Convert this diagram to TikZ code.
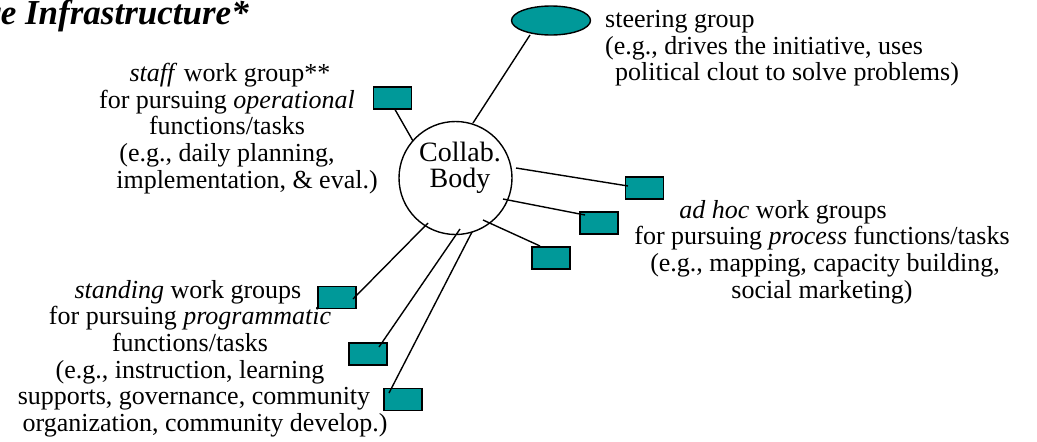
\documentclass[tikz,border=0pt]{standalone}
\usepackage{fontspec}
\setmainfont{Liberation Serif}
\usetikzlibrary{calc,shapes.geometric}
\definecolor{teal}{RGB}{0,153,153}
\tikzset{
  wgbox/.style={draw=black, fill=teal, line width=1.4pt, minimum width=38pt, minimum height=22pt, inner sep=0pt},
  link/.style={draw=black, line width=1.4pt},
  label/.style={inner sep=0pt, font=\fontsize{26}{26.6}\selectfont},
}
\begin{document}
\begin{tikzpicture}[x=1pt, y=-1pt]
  \useasboundingbox (0,0) rectangle (1037,442);
  \clip (0,0) rectangle (1037,442);

  % heading, running off the left edge
  \node[anchor=base east, inner sep=0pt, font=\fontsize{35}{38}\selectfont\bfseries\itshape]
    (title) at (249,24) {re Infrastructure*};

  % central body
  \node[circle, draw=black, fill=white, line width=1.4pt, minimum size=113pt, inner sep=0pt]
    (cb) at (455.5,178) {};
  \node[inner sep=0pt, align=center, font=\fontsize{28}{26}\selectfont]
    (cbtext) at (460,167.5) {Collab.\\Body};

  % steering group
  \node[ellipse, draw=black, fill=teal, line width=1.4pt, minimum width=79pt, minimum height=29pt, inner sep=0pt]
    (steer) at (551,20.5) {};
  \node[label, anchor=west, align=left] (steertext) at (605,48.5)
    {steering group\\(e.g., drives the initiative, uses\\\hspace*{10pt}political clout to solve problems)};

  % work group boxes
  \node[wgbox] (bS) at (392.5,98) {};
  \node[wgbox] (bA) at (644.5,188) {};
  \node[wgbox] (bB) at (599,223) {};
  \node[wgbox] (bC) at (551,258) {};
  \node[wgbox] (bD) at (337,297.5) {};
  \node[wgbox] (bE) at (368,354) {};
  \node[wgbox] (bF) at (403,399.5) {};

  % connector ends
  \coordinate (eSteer) at ($(steer.center)+(-21,14.5)$);
  \coordinate (cSteer) at ($(cb.center)+(17.5,-55)$);
  \coordinate (cS) at ($(cb.center)+(-42.5,-37)$);
  \coordinate (cA) at ($(cb.center)+(60.5,-10)$);
  \coordinate (cB) at ($(cb.center)+(47.5,21)$);
  \coordinate (cC) at ($(cb.center)+(27.5,42)$);
  \coordinate (cD) at ($(cb.center)+(-27.5,45)$);
  \coordinate (cE) at ($(cb.center)+(4.5,51)$);
  \coordinate (cF) at ($(cb.center)+(16.5,54)$);
  \coordinate (eS) at ($(bS.center)+(2.5,11.5)$);
  \coordinate (eA) at ($(bA.center)+(-16.5,-2)$);
  \coordinate (eB) at ($(bB.center)+(-14,-8)$);
  \coordinate (eC) at ($(bC.center)+(-11,-12)$);
  \coordinate (eD) at ($(bD.center)+(16,1.5)$);
  \coordinate (eE) at ($(bE.center)+(11,-7)$);
  \coordinate (eF) at ($(bF.center)+(-14,-6.5)$);

  \draw[link] (eSteer) -- (cSteer);
  \draw[link] (eS) -- (cS);
  \draw[link] (cA) -- (eA);
  \draw[link] (cB) -- (eB);
  \draw[link] (cC) -- (eC);
  \draw[link] (cD) -- (eD);
  \draw[link] (cE) -- (eE);
  \draw[link] (cF) -- (eF);

  % group descriptions
  \node[label, align=center] (stafftext) at (227,128.5)
    {\hspace*{6pt}\textit{staff} work group**\\
     for pursuing \textit{operational}\\
     functions/tasks\hspace*{8pt}\\
     (e.g., daily planning,\hspace*{24pt}\\
     \hspace*{40pt}implementation, \& eval.)};
  \node[label, align=center] (adhoctext) at (822,252)
    {\textit{ad hoc} work groups\hspace*{78pt}\\
     for pursuing \textit{process} functions/tasks\\
     \hspace*{6pt}(e.g., mapping, capacity building,\\
     social marketing)};
  \node[label, align=center] (standtext) at (190,358.5)
    {\textit{standing} work groups\hspace*{4pt}\\
     for pursuing \textit{programmatic}\\
     functions/tasks\hspace*{24pt}\\
     (e.g., instruction, learning\hspace*{30pt}\\
     \hspace*{8pt}supports, governance, community\\
     \hspace*{30pt}organization, community develop.)};
\end{tikzpicture}
\end{document}
